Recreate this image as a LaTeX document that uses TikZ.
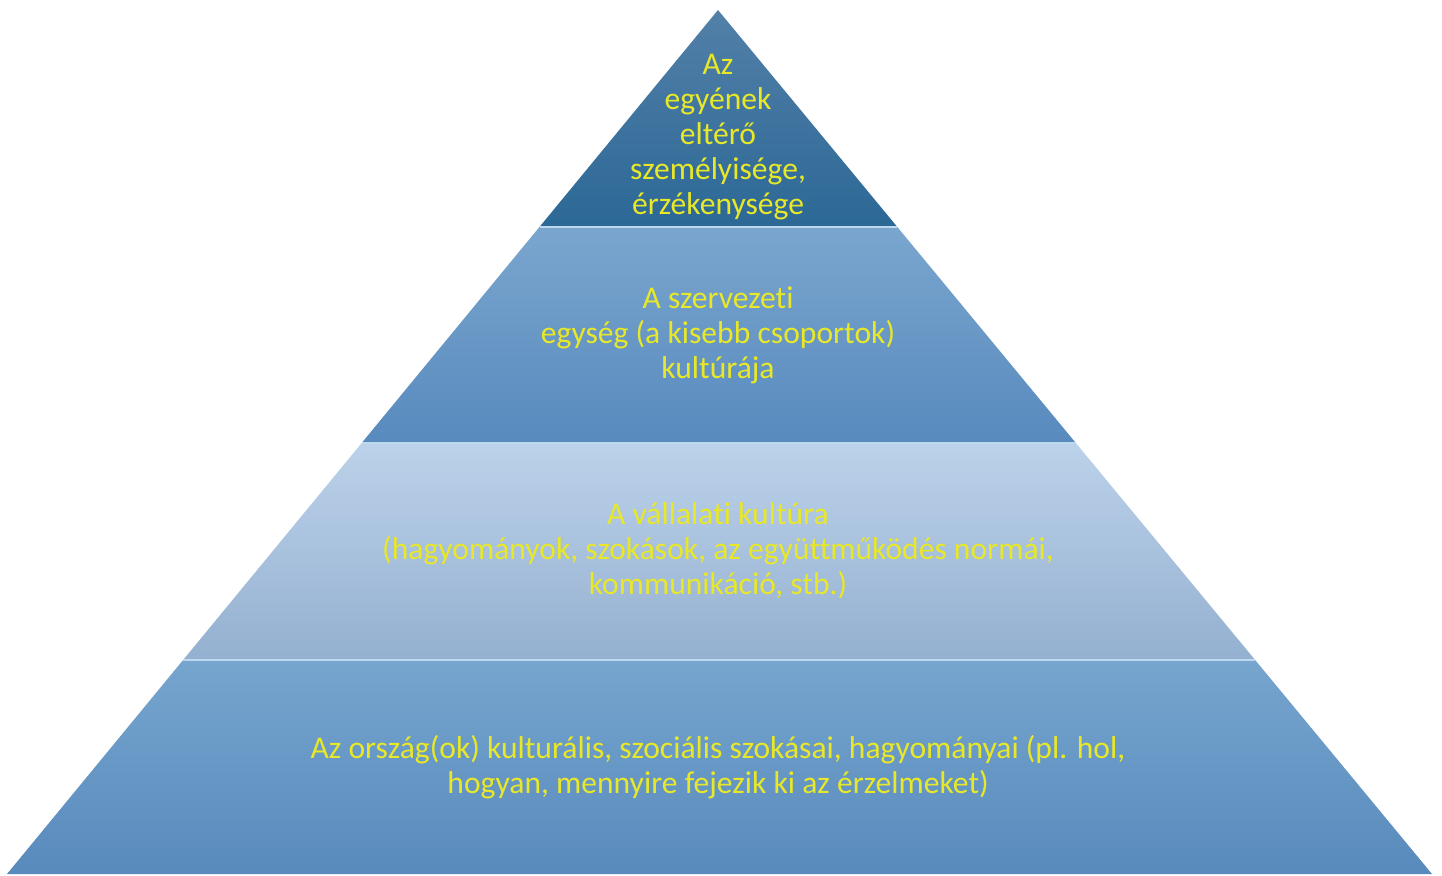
\documentclass[tikz,border=0pt]{standalone}
\usepackage{fontspec}
\setmainfont{Carlito}[Ligatures=NoCommon]
\usepackage{xcolor}
\usepackage{tikz}
\usetikzlibrary{positioning, calc}

\definecolor{topA}{RGB}{82,128,168}
\definecolor{topB}{RGB}{44,104,150}
\definecolor{midA}{RGB}{122,166,206}
\definecolor{midB}{RGB}{88,138,190}
\definecolor{vallA}{RGB}{188,210,234}
\definecolor{vallB}{RGB}{148,176,208}
\definecolor{baseA}{RGB}{118,165,206}
\definecolor{baseB}{RGB}{88,138,188}
\definecolor{seplight}{RGB}{190,216,240}
\definecolor{textyellow}{RGB}{232,232,40}

\begin{document}
\begin{tikzpicture}[
                x=0.75pt, y=-0.75pt,
                layertext/.style={text=textyellow, align=center, font=\fontsize{23.7}{26.25}\selectfont},
                sep/.style={draw=seplight, line width=1.5pt}
            ]
                \useasboundingbox (0,0) rectangle (1442,875);

                % Corners
                \coordinate (apex) at (718,10);
                \coordinate (bl) at (7,874);
                \coordinate (br) at (1432,874);
                \foreach \i/\t in {1/0.251, 2/0.501, 3/0.752} {
                    \coordinate (l\i) at ($(apex)!\t!(bl)$);
                    \coordinate (r\i) at ($(apex)!\t!(br)$);
                }

                % Layers
                \shade[top color=topA, bottom color=topB] (apex) -- (r1) -- (l1) -- cycle;
                \shade[top color=midA, bottom color=midB] (l1) -- (r1) -- (r2) -- (l2) -- cycle;
                \shade[top color=vallA, bottom color=vallB] (l2) -- (r2) -- (r3) -- (l3) -- cycle;
                \shade[top color=baseA, bottom color=baseB] (l3) -- (r3) -- (br) -- (bl) -- cycle;
                \draw[sep] (l1) -- (r1);
                \draw[sep] (l2) -- (r2);
                \draw[sep] (l3) -- (r3);

                % Nodes
                \node[layertext] (egyen) at (718,137) {Az\\egyének\\eltérő\\személyisége,\\érzékenysége};
                \node[layertext] (szerv) at (718,335) {A szervezeti\\egység (a kisebb csoportok)\\kultúrája};
                \node[layertext] (vall) at (718,551) {A vállalati kultúra\\(hagyományok, szokások, az együttműködés normái,\\kommunikáció, stb.)};
                \node[layertext] (orszag) at (718,767) {Az ország(ok) kulturális, szociális szokásai, hagyományai (pl. hol,\\hogyan, mennyire fejezik ki az érzelmeket)};
            \end{tikzpicture}
\end{document}
